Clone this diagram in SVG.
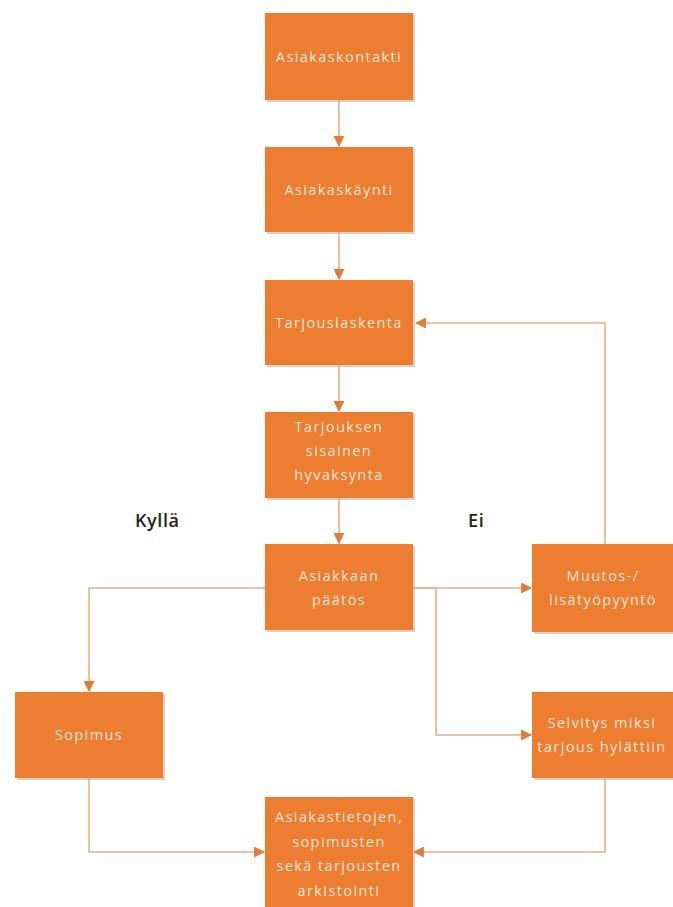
<svg xmlns="http://www.w3.org/2000/svg" width="673" height="907" viewBox="0 0 673 907">
<style>
.box{fill:#ED7D31;}
.shadow{fill:#B9A99C;opacity:0.55;}
.t{font-family:"Open Sans","Liberation Sans",sans-serif;font-size:14.5px;fill:#FBE6D6;text-anchor:middle;letter-spacing:1.4px;}
.lbl{font-family:"Open Sans","Liberation Sans",sans-serif;font-size:18px;fill:#222;font-weight:600;letter-spacing:0.6px;}
.c{fill:none;stroke:#E6B08C;stroke-width:1.6;}
</style>
<defs>
<marker id="a" viewBox="0 0 10 10" refX="9" refY="5" markerWidth="11" markerHeight="11" orient="auto" markerUnits="userSpaceOnUse">
<path d="M0,0 L10,5 L0,10 z" fill="#E07B39"/>
</marker>
</defs>
<g id="connectors">
<path class="c" d="M339,100 V146" marker-end="url(#a)"/>
<path class="c" d="M339,232 V279" marker-end="url(#a)"/>
<path class="c" d="M339,365 V411" marker-end="url(#a)"/>
<path class="c" d="M339,498 V543" marker-end="url(#a)"/>
<path class="c" d="M265,588 H89 V691" marker-end="url(#a)"/>
<path class="c" d="M413,588 H531" marker-end="url(#a)"/>
<path class="c" d="M413,588 H436 V735 H531" marker-end="url(#a)"/>
<path class="c" d="M605,544 V323 H416" marker-end="url(#a)"/>
<path class="c" d="M89,778 V852 H264" marker-end="url(#a)"/>
<path class="c" d="M605,778 V852 H414" marker-end="url(#a)"/>
</g>
<g id="n1"><rect class="shadow" x="267" y="15" width="148" height="87"/><rect class="box" x="265" y="13" width="148" height="87"/><text class="t" x="339" y="62">Asiakaskontakti</text></g>
<g id="n2"><rect class="shadow" x="267" y="149" width="148" height="85"/><rect class="box" x="265" y="147" width="148" height="85"/><text class="t" x="339" y="195">Asiakaskäynti</text></g>
<g id="n3"><rect class="shadow" x="267" y="282" width="148" height="85"/><rect class="box" x="265" y="280" width="148" height="85"/><text class="t" x="339" y="328">Tarjouslaskenta</text></g>
<g id="n4"><rect class="shadow" x="267" y="414" width="148" height="86"/><rect class="box" x="265" y="412" width="148" height="86"/><text class="t" x="339" y="432">Tarjouksen</text><text class="t" x="339" y="456">sisainen</text><text class="t" x="339" y="480">hyvaksynta</text></g>
<g id="n5"><rect class="shadow" x="267" y="546" width="148" height="86"/><rect class="box" x="265" y="544" width="148" height="86"/><text class="t" x="339" y="581">Asiakkaan</text><text class="t" x="339" y="605">päätös</text></g>
<g id="n6"><rect class="shadow" x="534" y="546" width="148" height="88"/><rect class="box" x="532" y="544" width="148" height="88"/><text class="t" x="603" y="581">Muutos-/</text><text class="t" x="603" y="605">lisätyöpyyntö</text></g>
<g id="n7"><rect class="shadow" x="17" y="694" width="148" height="86"/><rect class="box" x="15" y="692" width="148" height="86"/><text class="t" x="89" y="740">Sopimus</text></g>
<g id="n8"><rect class="shadow" x="534" y="694" width="148" height="86"/><rect class="box" x="532" y="692" width="148" height="86"/><text class="t" x="602" y="728">Selvitys miksi</text><text class="t" x="602" y="752">tarjous hylättiin</text></g>
<g id="n9"><rect class="shadow" x="267" y="799" width="148" height="120"/><rect class="box" x="265" y="797" width="148" height="120"/><text class="t" x="339" y="822">Asiakastietojen,</text><text class="t" x="339" y="847">sopimusten</text><text class="t" x="339" y="871">sekä tarjousten</text><text class="t" x="339" y="896">arkistointi</text></g>
<text class="lbl" x="135" y="527">Kyllä</text>
<text class="lbl" x="468" y="527">Ei</text>
</svg>
